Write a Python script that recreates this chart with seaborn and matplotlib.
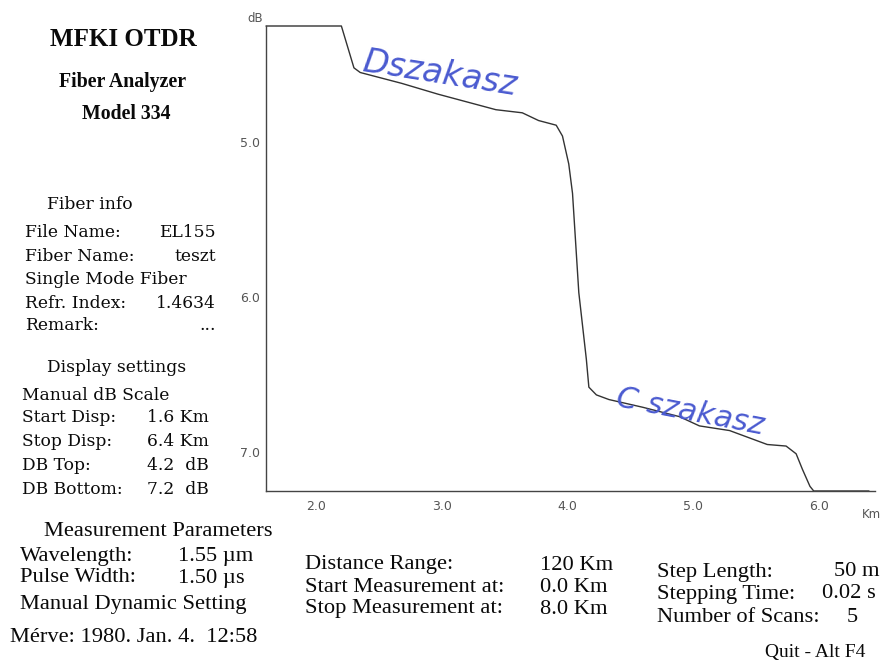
import matplotlib
matplotlib.use("Agg")
import matplotlib.pyplot as plt
import seaborn as sns
import pandas as pd

# ---- data ----
distance_km = [1.60, 2.20, 2.30, 2.35, 2.68, 2.97, 3.43, 3.64, 3.77, 3.91, 3.96,
               4.01, 4.04, 4.09, 4.15, 4.17, 4.23, 4.33, 4.60, 4.89, 5.05, 5.29,
               5.59, 5.74, 5.82, 5.87, 5.93, 5.96, 6.40]
loss_db = [4.20, 4.20, 4.47, 4.50, 4.57, 4.64, 4.74, 4.76, 4.81, 4.84, 4.91,
           5.09, 5.28, 5.92, 6.35, 6.53, 6.58, 6.61, 6.66, 6.72, 6.78, 6.81,
           6.90, 6.91, 6.96, 7.06, 7.17, 7.20, 7.20]
x_ticks = [2.0, 3.0, 4.0, 5.0, 6.0]
y_ticks = [5.0, 6.0, 7.0]
x_range = (1.6, 6.4)
y_range = (7.2, 4.2)

W, H = 891, 664
sns.set_style("white")
plt.rcParams["font.family"] = ["DejaVu Sans"]

fig = plt.figure(figsize=(W / 100, H / 100), dpi=100)
fig.patch.set_facecolor("white")

# axes placed in pixel space
L, R, T, B = 266, 869, 26, 491
ax = fig.add_axes([L / W, 1 - B / H, (R - L) / W, (B - T) / H])

df = pd.DataFrame({"km": distance_km, "dB": loss_db})
sns.lineplot(data=df, x="km", y="dB", ax=ax, color="#333333", linewidth=1.0,
             estimator=None, sort=False)
ax.set_xlim(*x_range)
ax.set_ylim(*y_range)
for ln in ax.get_lines():
    ln.set_clip_on(False)
ax.set_xlabel("")
ax.set_ylabel("")
for s in ["top", "right"]:
    ax.spines[s].set_visible(False)
for s in ["left", "bottom"]:
    ax.spines[s].set_color("#444444")
    ax.spines[s].set_linewidth(1.0)
ax.spines["bottom"].set_bounds(x_range[0], 6.45)

ax.set_xticks(x_ticks)
ax.set_xticklabels([f"{v:.1f}" for v in x_ticks])
ax.set_yticks(y_ticks)
ax.set_yticklabels([f"{v:.1f}" for v in y_ticks])
ax.tick_params(axis="both", direction="inout", length=7, width=1.0,
               color="#444444", labelsize=9, labelcolor="#555555")
ax.tick_params(axis="y", pad=1)
ax.tick_params(axis="x", pad=3)
for lab in ax.get_yticklabels():
    lab.set_va("bottom")


def px(x, y):
    return x / W, 1 - y / H


# axis unit labels
fig.text(*px(255, 18), "dB", fontsize=8.5, color="#555555", ha="center", va="center")
fig.text(*px(871, 514), "Km", fontsize=8.5, color="#555555", ha="center", va="center")

# handwritten annotations
fig.text(*px(440, 74), "Dszakasz", fontsize=24, color="#4a5ad0", ha="center",
         va="center", rotation=-9, style="italic", fontweight="light",
         family=["DejaVu Sans"])
fig.text(*px(690, 412), "C szakasz", fontsize=22, color="#4a5ad0", ha="center",
         va="center", rotation=-11, style="italic", fontweight="light",
         family=["DejaVu Sans"])

# ---- left info panel ----
ink = "#0a0a0a"
hdr = ["Liberation Serif", "DejaVu Serif"]
body = ["DejaVu Serif"]
fig.text(*px(123, 40), "MFKI OTDR", fontsize=18, fontweight="bold", family=hdr,
         ha="center", va="center", color=ink)
fig.text(*px(123, 82), "Fiber Analyzer", fontsize=14.3, fontweight="bold", family=hdr,
         ha="center", va="center", color=ink)
fig.text(*px(126, 114), "Model 334", fontsize=14.3, fontweight="bold", family=hdr,
         ha="center", va="center", color=ink)

fs = 12.3
fig.text(*px(47, 204), "Fiber info", fontsize=fs, family=body, ha="left", va="center", color=ink)
rows_left = [("File Name:", "EL155", 233), ("Fiber Name:", "teszt", 257),
             ("Refr. Index:", "1.4634", 303), ("Remark:", "...", 326)]
for lbl, val, y in rows_left:
    fig.text(*px(25, y), lbl, fontsize=fs, family=body, ha="left", va="center", color=ink)
    fig.text(*px(216, y), val, fontsize=fs, family=body, ha="right", va="center", color=ink)
fig.text(*px(25, 280), "Single Mode Fiber", fontsize=fs, family=body, ha="left", va="center", color=ink)

fig.text(*px(47, 368), "Display settings", fontsize=fs, family=body, ha="left", va="center", color=ink)
fig.text(*px(22, 395), "Manual dB Scale", fontsize=fs, family=body, ha="left", va="center", color=ink)
rows_disp = [("Start Disp:", "1.6 Km", 418), ("Stop Disp:", "6.4 Km", 441),
             ("DB Top:", "4.2  dB", 465), ("DB Bottom:", "7.2  dB", 489)]
for lbl, val, y in rows_disp:
    fig.text(*px(22, y), lbl, fontsize=fs, family=body, ha="left", va="center", color=ink)
    fig.text(*px(147, y), val, fontsize=fs, family=body, ha="left", va="center", color=ink)

# ---- bottom measurement parameters ----
bf = ["Liberation Serif"]
bs = 16.2
fig.text(*px(44, 531), "Measurement Parameters", fontsize=bs, family=bf, ha="left", va="center", color=ink)
col1 = [("Wavelength:", "1.55 \u00b5m", 556), ("Pulse Width:", "1.50 \u00b5s", 578)]
for lbl, val, y in col1:
    fig.text(*px(20, y), lbl, fontsize=bs, family=bf, ha="left", va="center", color=ink)
    fig.text(*px(178, y), val, fontsize=bs, family=bf, ha="left", va="center", color=ink)
fig.text(*px(20, 604), "Manual Dynamic Setting", fontsize=bs, family=bf, ha="left", va="center", color=ink)
fig.text(*px(10, 637), "M\u00e9rve: 1980. Jan. 4.  12:58", fontsize=bs, family=bf, ha="left", va="center", color=ink)

col2 = [("Distance Range:", "120 Km", 565), ("Start Measurement at:", "0.0 Km", 587),
        ("Stop Measurement at:", "8.0 Km", 609)]
for lbl, val, y in col2:
    fig.text(*px(305, y), lbl, fontsize=bs, family=bf, ha="left", va="center", color=ink)
    fig.text(*px(540, y), val, fontsize=bs, family=bf, ha="left", va="center", color=ink)

col3 = [("Step Length:", "50 m", 572, 880, "right"),
        ("Stepping Time:", "0.02 s", 594, 876, "right"),
        ("Number of Scans:", "5", 617, 852, "center")]
for lbl, val, y, vx, vha in col3:
    fig.text(*px(657, y), lbl, fontsize=bs, family=bf, ha="left", va="center", color=ink)
    fig.text(*px(vx, y), val, fontsize=bs, family=bf, ha=vha, va="center", color=ink)
fig.text(*px(765, 652), "Quit - Alt F4", fontsize=14, family=bf, ha="left", va="center", color=ink)

fig.savefig("out.png", dpi=100, facecolor="white")
